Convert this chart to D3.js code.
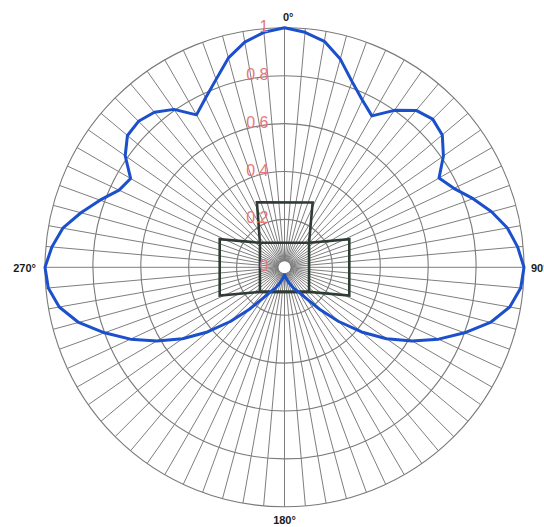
<!DOCTYPE html>
<html>
<head>
<meta charset="utf-8">
<script src="https://cdn.jsdelivr.net/npm/d3@7/dist/d3.min.js"></script>
<style>
  html, body { margin: 0; padding: 0; background: #fff; }
  svg { display: block; }
</style>
</head>
<body>
<svg id="chart" width="544" height="527"></svg>
<script>
// Bearings (degrees, clockwise from north) for the main pattern and the grid spokes
const bearing = [
  0, 5, 10, 15, 20, 25, 30, 35, 40, 45, 50, 55, 60, 65, 70, 75, 80, 85,
  90, 95, 100, 105, 110, 115, 120, 125, 130, 135, 140, 145, 150, 155, 160, 165, 170, 175,
  180, 185, 190, 195, 200, 205, 210, 215, 220, 225, 230, 235, 240, 245, 250, 255, 260, 265,
  270, 275, 280, 285, 290, 295, 300, 305, 310, 315, 320, 325, 330, 335, 340, 345, 350, 355
];

// Normalised pattern level at each bearing
const lobe = [
  1.00, 0.985, 0.958, 0.90, 0.825, 0.77, 0.73, 0.80, 0.855, 0.875, 0.86, 0.81, 0.745, 0.78, 0.838, 0.895, 0.945, 0.977,
  1.00, 0.99, 0.955, 0.89, 0.80, 0.71, 0.615, 0.52, 0.42, 0.32, 0.23, 0.16, 0.12, 0.10, 0.08, 0.065, 0.05, 0.04,
  0.03, 0.04, 0.05, 0.065, 0.08, 0.10, 0.12, 0.16, 0.23, 0.32, 0.42, 0.52, 0.615, 0.71, 0.80, 0.89, 0.955, 0.99,
  1.00, 0.975, 0.94, 0.88, 0.82, 0.762, 0.742, 0.812, 0.856, 0.862, 0.845, 0.805, 0.735, 0.78, 0.835, 0.905, 0.955, 0.985
];

// Cross-shaped outline (vertex bearings and levels)
const crossBearing = [315, 337, 23.5, 45, 66.5, 113.5, 135, 225, 246.5, 293.5];
const crossLevel   = [0.145, 0.295, 0.295, 0.145, 0.295, 0.295, 0.145, 0.145, 0.295, 0.295];

// Inner square
const squareBearing = [45, 135, 225, 315];
const squareLevel   = [0.145, 0.145, 0.145, 0.145];

// Radial axis
const ringValues  = [0.2, 0.4, 0.6, 0.8, 1];
const radialTicks = [0, 0.2, 0.4, 0.6, 0.8, 1];
const radialTickText = ["0", "0.2", "0.4", "0.6", "0.8", "1"];

// Compass labels
const compassBearing = [0, 90, 180, 270];
const compassText = ["0\u00B0", "90\u00B0", "180\u00B0", "270\u00B0"];

const cx = 284.5, cy = 267.3, R = 239.5;

const svg = d3.select("#chart");
const g = svg.append("g").attr("transform", `translate(${cx},${cy})`);

const r = d3.scaleLinear().domain([0, 1]).range([0, R]);
const toRad = d => d * Math.PI / 180;

// Spokes
g.append("g").selectAll("line")
  .data(bearing)
  .join("line")
  .attr("x1", d => 5 * Math.sin(toRad(d)))
  .attr("y1", d => -5 * Math.cos(toRad(d)))
  .attr("x2", d => R * Math.sin(toRad(d)))
  .attr("y2", d => -R * Math.cos(toRad(d)))
  .attr("stroke", "#6f6f6f")
  .attr("stroke-width", 0.9);

// Rings
g.append("g").selectAll("circle")
  .data(ringValues)
  .join("circle")
  .attr("r", d => r(d))
  .attr("fill", "none")
  .attr("stroke", "#7a7a7a")
  .attr("stroke-width", 1.1);

// Cross outline and inner square
const radialLine = d3.lineRadial()
  .angle(d => toRad(d[0]))
  .radius(d => r(d[1]))
  .curve(d3.curveLinearClosed);

g.append("path")
  .datum(crossBearing.map((b, i) => [b, crossLevel[i]]))
  .attr("d", radialLine)
  .attr("fill", "none")
  .attr("stroke", "#2e3c34")
  .attr("stroke-width", 2.6)
  .attr("stroke-linejoin", "miter");

g.append("path")
  .datum(squareBearing.map((b, i) => [b, squareLevel[i]]))
  .attr("d", radialLine)
  .attr("fill", "none")
  .attr("stroke", "#2e3c34")
  .attr("stroke-width", 2.6);

// Main pattern
g.append("path")
  .datum(bearing.map((b, i) => [b, lobe[i]]))
  .attr("d", radialLine)
  .attr("fill", "none")
  .attr("stroke", "#1b4fcc")
  .attr("stroke-width", 3)
  .attr("stroke-linejoin", "round");

// Centre hole
g.append("circle").attr("r", 6).attr("fill", "#fff");

// Radial tick labels
g.append("g").selectAll("text")
  .data(radialTicks)
  .join("text")
  .attr("x", -16)
  .attr("y", d => -r(d) + 4)
  .attr("text-anchor", "end")
  .attr("font-family", "Liberation Sans, Arial, sans-serif")
  .attr("font-size", 16)
  .attr("fill", "#e8767c")
  .text((d, i) => radialTickText[i]);

// Compass labels
const compassPos = [
  { x: -1.5, y: -R - 7, anchor: "start" },
  { x: R + 7, y: 5, anchor: "start" },
  { x: 0, y: R + 17, anchor: "middle" },
  { x: -R - 9, y: 5, anchor: "end" }
];
g.append("g").selectAll("text")
  .data(compassBearing)
  .join("text")
  .attr("x", (d, i) => compassPos[i].x)
  .attr("y", (d, i) => compassPos[i].y)
  .attr("text-anchor", (d, i) => compassPos[i].anchor)
  .attr("font-family", "Liberation Sans, Arial, sans-serif")
  .attr("font-size", 11)
  .attr("font-weight", "bold")
  .attr("fill", "#1a1a1a")
  .text((d, i) => compassText[i]);
</script>
</body>
</html>
